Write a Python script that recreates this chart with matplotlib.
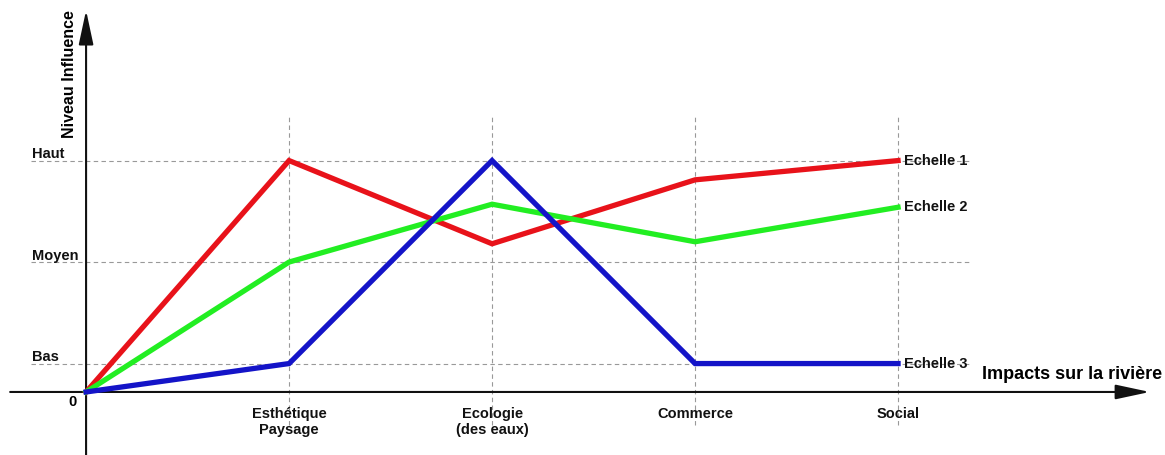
import matplotlib.pyplot as plt

plt.rcParams['font.family'] = ['Liberation Sans', 'DejaVu Sans']

categories = ['', 'Esthétique\nPaysage', 'Ecologie\n(des eaux)', 'Commerce', 'Social']
level_names = ['Bas', 'Moyen', 'Haut']
level_values = [0.28, 1.28, 2.28]

echelle1 = [0, 2.28, 1.46, 2.09, 2.28]
echelle2 = [0, 1.28, 1.85, 1.48, 1.82]
echelle3 = [0, 0.28, 2.28, 0.28, 0.28]
series_names = ['Echelle 1', 'Echelle 2', 'Echelle 3']

x = list(range(len(categories)))

fig = plt.figure(figsize=(11.65, 4.55), dpi=100)
ax = fig.add_axes([0, 0, 1, 1])
ax.set_xlim(-0.424, 5.315)
ax.set_ylim(-0.621, 3.862)
ax.axis('off')

# grid
for yv in level_values:
    ax.plot([-0.27, 4.35], [yv, yv], color='#999999', lw=0.8, ls=(0, (4, 3)), zorder=1)
for xv in x[1:]:
    ax.plot([xv, xv], [-0.33, 2.73], color='#999999', lw=0.8, ls=(0, (4, 3)), zorder=1)

# axes with arrows
ax.annotate('', xy=(5.24, 0), xytext=(-0.374, 0),
            arrowprops=dict(arrowstyle='-|>,head_length=1.4,head_width=0.3',
                            color='#111111', lw=1.5, mutation_scale=15, shrinkA=0, shrinkB=0), zorder=2)
ax.annotate('', xy=(0, 3.76), xytext=(0, -0.621),
            arrowprops=dict(arrowstyle='-|>,head_length=1.4,head_width=0.3',
                            color='#111111', lw=1.5, mutation_scale=15, shrinkA=0, shrinkB=0), zorder=2)

colors = ['#e8121a', '#22ee22', '#1414c8']
for vals, c in zip([echelle1, echelle2, echelle3], colors):
    ax.plot(x, vals, color=c, lw=3.8, solid_joinstyle='miter', zorder=3)

for vals, name in zip([echelle1, echelle2, echelle3], series_names):
    ax.text(x[-1] + 0.03, vals[-1], name, fontsize=10.5, fontweight='bold',
            ha='left', va='center', color='#111111', zorder=4)

for yv, name in zip(level_values, level_names):
    ax.text(-0.266, yv + 0.025, name, fontsize=10.5, fontweight='bold',
            ha='left', va='baseline', color='#111111')
ax.text(-0.069, -0.1, '0', fontsize=10.5, fontweight='bold', ha='center', va='center')

for xv, lab in zip(x[1:], categories[1:]):
    ax.text(xv, -0.15, lab, fontsize=10.5, fontweight='bold', ha='center', va='top',
            linespacing=1.2, color='#111111')

ax.text(-0.084, 3.13, 'Niveau Influence', rotation=90, fontsize=11.5, fontweight='bold',
        ha='center', va='center')
ax.text(4.414, 0.17, 'Impacts sur la rivière', fontsize=13, fontweight='bold',
        ha='left', va='center')

fig.savefig('out.png', dpi=100)
